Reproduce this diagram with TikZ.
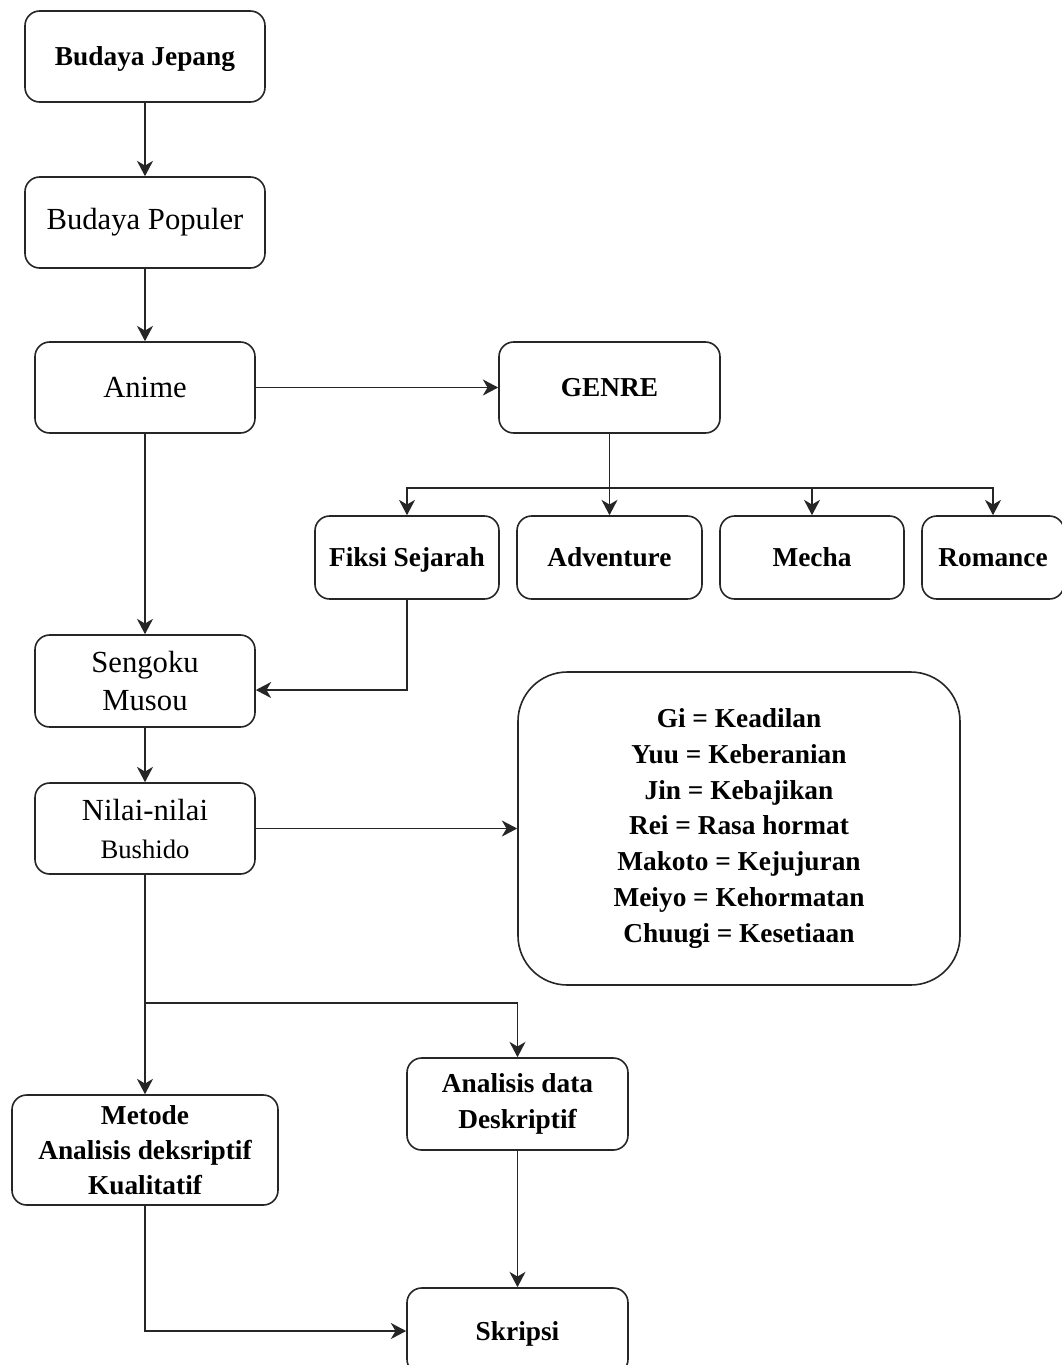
\documentclass[tikz,border=0pt]{standalone}
\usepackage{fontspec}
\setmainfont{Liberation Serif}
\usetikzlibrary{arrows.meta,calc}
\begin{document}
\begin{tikzpicture}[x=0.75pt,y=-0.75pt,
  box/.style={draw=black!85, line width=1.2pt, rounded corners=11pt, align=center, inner sep=0pt},
  bfont/.style={font=\fontsize{20.5}{26.5}\selectfont\bfseries, text depth=0pt},
  rfont/.style={font=\fontsize{23}{28.5}\selectfont},
  arr/.style={draw=black!85, line width=1.4pt, -{Stealth[length=11.5pt,width=12pt,inset=3.5pt]}},
  ln/.style={draw=black!85, line width=1.4pt}]
\useasboundingbox (0,0) rectangle (1062,1365);
\node[box,bfont,minimum width=180pt,minimum height=68.25pt] (bj) at (145,56.5) {Budaya Jepang};
\node[box,rfont,minimum width=180pt,minimum height=68.25pt] (bp) at (145,222.5) {Budaya Populer};
\node[box,rfont,minimum width=165pt,minimum height=68.25pt] (anime) at (145,387.5) {Anime};
\node[box,bfont,minimum width=165.75pt,minimum height=68.25pt] (genre) at (609.5,387.5) {GENRE};
\node[box,bfont,minimum width=138pt,minimum height=62.25pt] (fiksi) at (407,557.5) {Fiksi Sejarah};
\node[box,bfont,minimum width=138.75pt,minimum height=62.25pt] (adv) at (609.5,557.5) {Adventure};
\node[box,bfont,minimum width=138pt,minimum height=62.25pt] (mecha) at (812,557.5) {Mecha};
\node[box,bfont,minimum width=106.5pt,minimum height=62.25pt] (romance) at (993,557.5) {Romance};
\node[box,rfont,minimum width=165pt,minimum height=69pt] (sengoku) at (145,681) {Sengoku\\Musou};
\node[box,font=\fontsize{20}{28.5}\selectfont,minimum width=165pt,minimum height=68.25pt] (nilai) at (145,828.5) {{\fontsize{23}{28.5}\selectfont Nilai-nilai}\\Bushido};
\node[box,rounded corners=37pt,minimum width=331.5pt,minimum height=234.75pt,font=\fontsize{20.5}{26.8}\selectfont\bfseries] (values) at (739,828.5)
  {Gi = Keadilan\\Yuu = Keberanian\\Jin = Kebajikan\\Rei = Rasa hormat\\Makoto = Kejujuran\\Meiyo = Kehormatan\\Chuugi = Kesetiaan};
\node[box,font=\fontsize{20.5}{26.3}\selectfont\bfseries,minimum width=199.5pt,minimum height=82.5pt] (metode) at (145,1150) {Metode\\Analisis deksriptif\\Kualitatif};
\node[box,font=\fontsize{20.5}{27.5}\selectfont\bfseries,minimum width=165.75pt,minimum height=69pt] (analisis) at (517.5,1104) {Analisis data\\Deskriptif};
\node[box,bfont,minimum width=165.75pt,minimum height=64.5pt] (skripsi) at (517.5,1331) {Skripsi};
\coordinate (gj) at (609.5,488);
\coordinate (br) at (145,1003);
\draw[arr] (bj.south) -- (bp.north);
\draw[arr] (bp.south) -- (anime.north);
\draw[arr] (anime.east) -- (genre.west);
\draw[ln] (genre.south) -- (gj);
\draw[arr] (gj) -| (fiksi.north);
\draw[arr] (gj) -- (adv.north);
\draw[arr] (gj) -| (mecha.north);
\draw[arr] (gj) -| (romance.north);
\draw[arr] (anime.south) -- (sengoku.north);
\draw[arr] (fiksi.south) |- ([yshift=-6.75pt]sengoku.east);
\draw[arr] (sengoku.south) -- (nilai.north);
\draw[arr] (nilai.east) -- (values.west);
\draw[arr] (nilai.south) -- (metode.north);
\draw[arr] (br) -| (analisis.north);
\draw[arr] (analisis.south) -- (skripsi.north);
\draw[arr] (metode.south) |- (skripsi.west);
\end{tikzpicture}
\end{document}
